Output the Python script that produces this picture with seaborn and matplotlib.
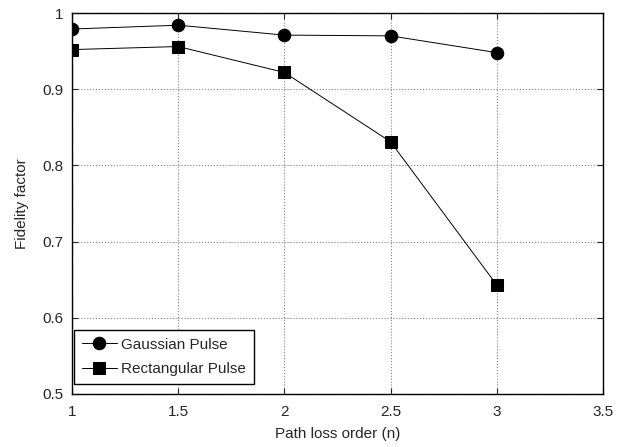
import pandas as pd
import seaborn as sns
import matplotlib.pyplot as plt

n_order = [1.0, 1.5, 2.0, 2.5, 3.0]
gaussian = [0.979, 0.984, 0.971, 0.970, 0.948]
rectangular = [0.952, 0.956, 0.922, 0.831, 0.643]
series_names = ["Gaussian Pulse", "Rectangular Pulse"]

tabela = pd.DataFrame({
    "n": n_order * 2,
    "fidelity": gaussian + rectangular,
    "pulse": [series_names[0]] * len(n_order) + [series_names[1]] * len(n_order),
})

sns.set_style("ticks")
plt.rcParams["font.family"] = ["Liberation Sans", "DejaVu Sans"]
plt.rcParams["font.size"] = 11

fig = plt.figure(figsize=(6.41, 4.47), dpi=100)
ax = fig.add_axes([0.1123, 0.1186, 0.8284, 0.8523])

sns.lineplot(data=tabela, x="n", y="fidelity", hue="pulse", style="pulse",
             markers={"Gaussian Pulse": "o", "Rectangular Pulse": "s"},
             dashes=False, palette=["black", "black"], markersize=9,
             linewidth=0.7, markeredgecolor="black", ax=ax)

ax.set_xlim(1, 3.5)
ax.set_ylim(0.5, 1)
ax.set_xticks([1, 1.5, 2, 2.5, 3, 3.5])
ax.set_xticklabels(["1", "1.5", "2", "2.5", "3", "3.5"])
ax.set_yticks([0.5, 0.6, 0.7, 0.8, 0.9, 1.0])
ax.set_yticklabels(["0.5", "0.6", "0.7", "0.8", "0.9", "1"])
ax.grid(True, linestyle=":", color="gray", linewidth=0.8)
ax.tick_params(direction="in", top=True, right=True, length=4, labelsize=11)
ax.tick_params(axis="x", pad=8)
ax.tick_params(axis="y", pad=6)
for s in ax.spines.values():
    s.set_linewidth(1.0)
    s.set_color("black")

ax.set_xlabel("Path loss order (n)", fontsize=11, labelpad=6)
ax.set_ylabel("Fidelity factor", fontsize=11, labelpad=10)

leg = ax.legend(loc="lower left", bbox_to_anchor=(0.004, 0.026), borderaxespad=0,
                fancybox=False, edgecolor="black", framealpha=1, fontsize=11,
                borderpad=0.5, labelspacing=0.7, handlelength=2.3, handletextpad=0.3)
leg.get_frame().set_linewidth(1.0)

fig.savefig("out.png", dpi=100)
